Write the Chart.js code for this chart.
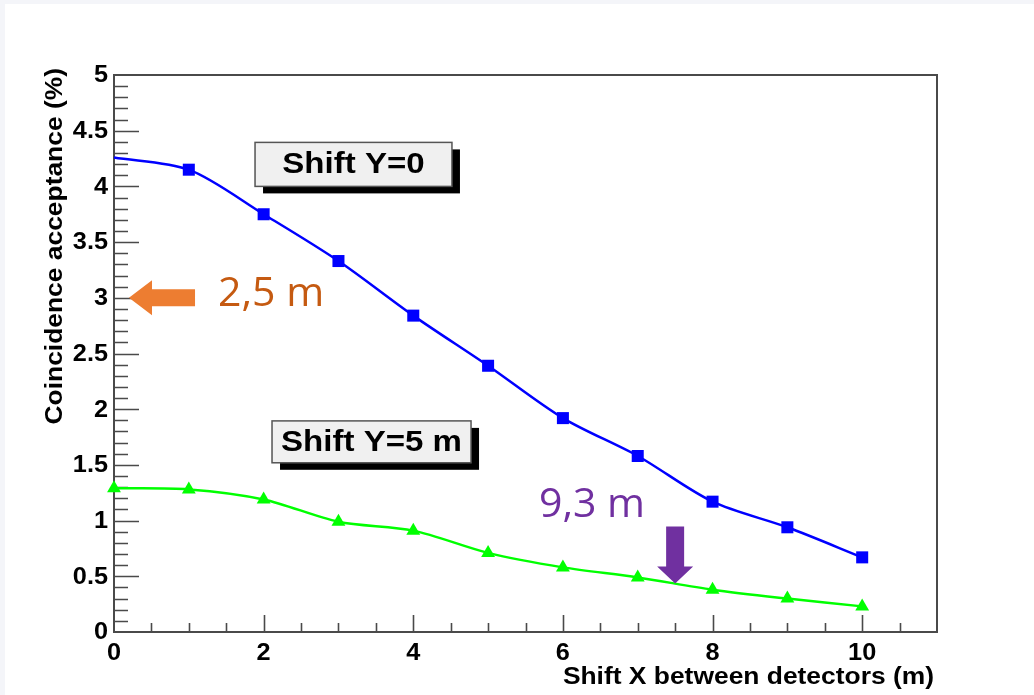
<!DOCTYPE html>
<html>
<head>
<meta charset="utf-8">
<title>Coincidence acceptance</title>
<script src="https://cdn.jsdelivr.net/npm/chart.js@4.4.0/dist/chart.umd.min.js"></script>
<style>
  html, body { margin: 0; padding: 0; background: #fff; }
  #wrap { position: relative; width: 1034px; height: 695px; overflow: hidden; }
  #accChart { position: absolute; left: 0; top: 0; }
  .strip { position: absolute; background: #f4f5f9; }
</style>
</head>
<body>
<div id="wrap">
  <canvas id="accChart" width="1034" height="695"></canvas>
  <div class="strip" style="left:0;top:0;width:1034px;height:4px"></div>
  <div class="strip" style="left:0;top:0;width:5px;height:695px"></div>
</div>
<script>
// Shift between the two detectors (m)
const shiftX = [0, 1, 2, 3, 4, 5, 6, 7, 8, 9, 10];
// Coincidence acceptance (%) for Y shift = 0 and Y shift = 5 m
const accShiftY0 = [4.26, 4.15, 3.75, 3.33, 2.84, 2.39, 1.92, 1.58, 1.17, 0.94, 0.67];
const accShiftY5 = [1.29, 1.28, 1.19, 0.99, 0.91, 0.71, 0.58, 0.49, 0.38, 0.30, 0.23];

const xTickLabels = [0, 2, 4, 6, 8, 10];
const yTickLabels = [0, 0.5, 1, 1.5, 2, 2.5, 3, 3.5, 4, 4.5, 5];

const xTitle = 'Shift X between detectors (m)';
const yTitle = 'Coincidence acceptance (%)';

const ROOT_FONT = '"Liberation Sans", Arial, Helvetica, sans-serif';
const AXIS_COLOR = '#4a4a4a';

// text labels placed on the plot (data coordinates)
const boxes = [
  { text: 'Shift Y=0',   x1: 1.885, x2: 4.517, y1: 4.395, y2: 4.0 },
  { text: 'Shift Y=5 m', x1: 2.112, x2: 4.772, y1: 1.895, y2: 1.519 }
];
const notes = [
  { text: '2,5 m', x: 1.39, y: 2.925, color: '#c55a11' },
  { text: '9,3 m', x: 5.68, y: 1.03,  color: '#7030a0' }
];

function stretchText(ctx, text, x, y, align, sx) {
  ctx.save();
  ctx.translate(x, y);
  ctx.scale(sx, 1);
  ctx.textAlign = align;
  ctx.fillText(text, 0, 0);
  ctx.restore();
}

// ROOT-like frame: inward ticks, bold labels, titles at the axis ends
const rootFrame = {
  id: 'rootFrame',
  beforeDatasetsDraw(chart) {
    const ctx = chart.ctx;
    const a = chart.chartArea;
    const xs = chart.scales.x, ys = chart.scales.y;

    ctx.save();
    ctx.strokeStyle = AXIS_COLOR;
    ctx.lineWidth = 2;
    ctx.strokeRect(a.left, a.top, a.right - a.left, a.bottom - a.top);

    ctx.lineWidth = 1.6;
    ctx.beginPath();
    // x ticks every 0.5, long ones every 2
    for (let i = 1; i < 22; i++) {
      const px = Math.round(xs.getPixelForValue(i * 0.5)) + 0.5;
      const len = i % 4 === 0 ? 17 : 9;
      ctx.moveTo(px, a.bottom);
      ctx.lineTo(px, a.bottom - len);
    }
    // y ticks every 0.1, long ones every 0.5
    for (let j = 1; j < 50; j++) {
      const py = Math.round(ys.getPixelForValue(j * 0.1)) + 0.5;
      const len = j % 5 === 0 ? 25 : 14;
      ctx.moveTo(a.left, py);
      ctx.lineTo(a.left + len, py);
    }
    ctx.stroke();

    ctx.fillStyle = '#000';
    ctx.font = 'bold 23px ' + ROOT_FONT;
    ctx.textBaseline = 'alphabetic';
    xTickLabels.forEach(v => {
      stretchText(ctx, String(v), xs.getPixelForValue(v), a.bottom + 28, 'center', 1.1);
    });
    ctx.textBaseline = 'middle';
    yTickLabels.forEach(v => {
      stretchText(ctx, String(v), a.left - 6, ys.getPixelForValue(v) + 1, 'right', 1.1);
    });

    ctx.textBaseline = 'alphabetic';
    ctx.font = 'bold 24px ' + ROOT_FONT;
    stretchText(ctx, xTitle, a.right - 3, a.bottom + 52, 'right', 1.1);

    ctx.save();
    ctx.translate(62, a.top - 7);
    ctx.rotate(-Math.PI / 2);
    ctx.scale(1.1, 1);
    ctx.textAlign = 'right';
    ctx.fillText(yTitle, 0, 0);
    ctx.restore();
    ctx.restore();
  },
  afterDatasetsDraw(chart) {
    const ctx = chart.ctx;
    const xs = chart.scales.x, ys = chart.scales.y;
    ctx.save();

    // labelled boxes with a drop shadow
    boxes.forEach(b => {
      const l = xs.getPixelForValue(b.x1), r = xs.getPixelForValue(b.x2);
      const t = ys.getPixelForValue(b.y1), btm = ys.getPixelForValue(b.y2);
      ctx.fillStyle = '#000';
      ctx.fillRect(l + 8, t + 7, r - l, btm - t);
      ctx.fillStyle = '#f0f0f0';
      ctx.fillRect(l, t, r - l, btm - t);
      ctx.strokeStyle = '#555';
      ctx.lineWidth = 1.5;
      ctx.strokeRect(l, t, r - l, btm - t);
      ctx.fillStyle = '#000';
      ctx.font = 'bold 29px ' + ROOT_FONT;
      ctx.textBaseline = 'middle';
      stretchText(ctx, b.text, (l + r) / 2, (t + btm) / 2 + 1, 'center', 1.14);
    });

    // orange arrow pointing at the 3 % level
    {
      const tipX = xs.getPixelForValue(0.2), tipY = ys.getPixelForValue(3.0);
      const tailX = xs.getPixelForValue(1.083), headX = xs.getPixelForValue(0.508);
      ctx.fillStyle = '#ed7d31';
      ctx.beginPath();
      ctx.moveTo(tipX, tipY);
      ctx.lineTo(headX, tipY - 17.5);
      ctx.lineTo(headX, tipY - 8.5);
      ctx.lineTo(tailX, tipY - 8.5);
      ctx.lineTo(tailX, tipY + 8.5);
      ctx.lineTo(headX, tipY + 8.5);
      ctx.lineTo(headX, tipY + 17.5);
      ctx.closePath();
      ctx.fill();
    }
    // purple arrow pointing down at the lower curve
    {
      const cx = xs.getPixelForValue(7.5);
      const topY = ys.getPixelForValue(0.946), headY = ys.getPixelForValue(0.587), tipY = ys.getPixelForValue(0.435);
      ctx.fillStyle = '#7030a0';
      ctx.beginPath();
      ctx.moveTo(cx - 9, topY);
      ctx.lineTo(cx + 9, topY);
      ctx.lineTo(cx + 9, headY);
      ctx.lineTo(cx + 18, headY);
      ctx.lineTo(cx, tipY);
      ctx.lineTo(cx - 18, headY);
      ctx.lineTo(cx - 9, headY);
      ctx.closePath();
      ctx.fill();
    }

    ctx.font = '41px "Open Sans", "Noto Sans", sans-serif';
    ctx.textBaseline = 'alphabetic';
    ctx.textAlign = 'left';
    notes.forEach(n => {
      ctx.fillStyle = n.color;
      ctx.fillText(n.text, xs.getPixelForValue(n.x), ys.getPixelForValue(n.y));
    });
    ctx.restore();
  }
};

new Chart(document.getElementById('accChart').getContext('2d'), {
  type: 'line',
  data: {
    datasets: [
      {
        label: 'Shift Y=0',
        data: shiftX.map((x, i) => ({ x: x, y: accShiftY0[i] })),
        borderColor: '#0000ff',
        backgroundColor: '#0000ff',
        borderWidth: 2.5,
        pointStyle: 'rect',
        pointRadius: shiftX.map((x, i) => i === 0 ? 0 : 8.5),
        pointBorderWidth: 0,
        tension: 0.3,
        clip: false
      },
      {
        label: 'Shift Y=5 m',
        data: shiftX.map((x, i) => ({ x: x, y: accShiftY5[i] })),
        borderColor: '#00ff00',
        backgroundColor: '#00ff00',
        borderWidth: 2.5,
        pointStyle: 'triangle',
        pointRadius: 8,
        pointBorderWidth: 0,
        tension: 0.3,
        clip: false
      }
    ]
  },
  options: {
    responsive: false,
    animation: false,
    layout: { padding: { left: 114, top: 75, right: 97, bottom: 63 } },
    plugins: {
      legend: { display: false },
      tooltip: { enabled: false }
    },
    scales: {
      x: { type: 'linear', min: 0, max: 11, display: false },
      y: { type: 'linear', min: 0, max: 5, display: false }
    }
  },
  plugins: [rootFrame]
});
</script>
</body>
</html>
